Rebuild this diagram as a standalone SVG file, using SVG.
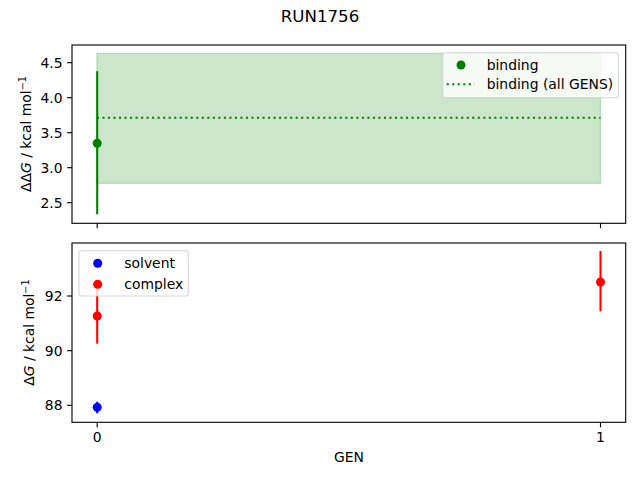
<svg xmlns="http://www.w3.org/2000/svg" width="640" height="480" viewBox="0 0 640 480">
<style>
text { font-family: "DejaVu Sans", sans-serif; font-size: 13.9px; fill: #000; }
.title { font-size: 16.67px; text-anchor: middle; }
.yt { text-anchor: end; }
.xt { text-anchor: middle; }
.frame { fill: none; stroke: #000; stroke-width: 1.11; }
.tick { stroke: #000; stroke-width: 1.11; }
.leg { fill: #fff; fill-opacity: 0.8; stroke: #cccccc; stroke-opacity: 0.8; stroke-width: 1.11; }
.eg { stroke: #008000; stroke-width: 2.08; }
.eb { stroke: #0000ff; stroke-width: 2.08; }
.er { stroke: #ff0000; stroke-width: 2.08; }
</style>
<rect width="640" height="480" fill="#fff"/>
<text class="title" x="320" y="22.3">RUN1756</text>

<g id="top-axes">
  <rect x="96.9" y="53.3" width="503.6" height="130" fill="#008000" fill-opacity="0.2" stroke="#008000" stroke-opacity="0.2" stroke-width="1.39"/>
  <line x1="96.9" y1="117.7" x2="600.5" y2="117.7" stroke="#008000" stroke-width="2.08" stroke-dasharray="2.08,3.44"/>
  <line class="eg" x1="97.2" y1="71.2" x2="97.2" y2="214.3"/>
  <circle cx="97.2" cy="143.3" r="4.5" fill="#008000"/>
  <rect class="frame" x="72" y="45" width="553.7" height="178.3"/>
  <g class="tick">
    <line x1="72" y1="62.7" x2="67.1" y2="62.7"/>
    <line x1="72" y1="97.7" x2="67.1" y2="97.7"/>
    <line x1="72" y1="132.7" x2="67.1" y2="132.7"/>
    <line x1="72" y1="167.7" x2="67.1" y2="167.7"/>
    <line x1="72" y1="202.7" x2="67.1" y2="202.7"/>
    <line x1="97.2" y1="223.3" x2="97.2" y2="228.2"/>
    <line x1="600.5" y1="223.3" x2="600.5" y2="228.2"/>
  </g>
  <text class="yt" x="62.5" y="67.7">4.5</text>
  <text class="yt" x="62.5" y="102.7">4.0</text>
  <text class="yt" x="62.5" y="137.7">3.5</text>
  <text class="yt" x="62.5" y="172.7">3.0</text>
  <text class="yt" x="62.5" y="207.7">2.5</text>
  <text transform="translate(30.5,134) rotate(-90)" text-anchor="middle">ΔΔ<tspan font-style="italic">G</tspan> / kcal mol<tspan font-size="9.7px" dy="-5">−1</tspan></text>
</g>

<g id="top-legend">
  <rect class="leg" x="442.7" y="52.7" width="175.6" height="45" rx="2.8"/>
  <circle cx="461" cy="65" r="4.5" fill="#008000"/>
  <line x1="446.7" y1="84.3" x2="474.5" y2="84.3" stroke="#008000" stroke-width="2.08" stroke-dasharray="2.08,3.44"/>
  <text x="486.7" y="69.5">binding</text>
  <text x="486.7" y="88.8">binding (all GENS)</text>
</g>

<g id="bottom-axes">
  <line class="eb" x1="97.2" y1="401.7" x2="97.2" y2="413.3"/>
  <circle cx="97.2" cy="407.3" r="4.5" fill="#0000ff"/>
  <line class="er" x1="97.2" y1="288.3" x2="97.2" y2="343.7"/>
  <circle cx="97.2" cy="316" r="4.5" fill="#ff0000"/>
  <line class="er" x1="600.5" y1="251" x2="600.5" y2="311.3"/>
  <circle cx="600.5" cy="282" r="4.5" fill="#ff0000"/>
  <rect class="frame" x="72" y="243" width="553.7" height="179.3"/>
  <g class="tick">
    <line x1="72" y1="296" x2="67.1" y2="296"/>
    <line x1="72" y1="350.7" x2="67.1" y2="350.7"/>
    <line x1="72" y1="405.3" x2="67.1" y2="405.3"/>
    <line x1="97.2" y1="422.3" x2="97.2" y2="427.2"/>
    <line x1="600.5" y1="422.3" x2="600.5" y2="427.2"/>
  </g>
  <text class="yt" x="62.5" y="301">92</text>
  <text class="yt" x="62.5" y="355.7">90</text>
  <text class="yt" x="62.5" y="410.3">88</text>
  <text class="xt" x="97.2" y="441.7">0</text>
  <text class="xt" x="600.5" y="441.7">1</text>
  <text class="xt" x="348.9" y="462">GEN</text>
  <text transform="translate(33.5,332.6) rotate(-90)" text-anchor="middle">Δ<tspan font-style="italic">G</tspan> / kcal mol<tspan font-size="9.7px" dy="-5">−1</tspan></text>
</g>

<g id="bottom-legend">
  <rect class="leg" x="79" y="250.7" width="109.3" height="45.3" rx="2.8"/>
  <circle cx="97.7" cy="263.3" r="4.5" fill="#0000ff"/>
  <circle cx="97.7" cy="284.3" r="4.5" fill="#ff0000"/>
  <text x="124.3" y="267.8">solvent</text>
  <text x="124.3" y="288.8">complex</text>
</g>
</svg>
